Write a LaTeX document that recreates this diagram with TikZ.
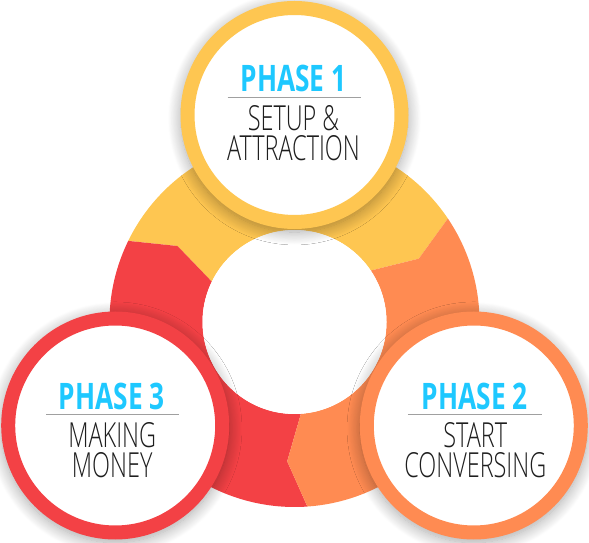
\documentclass[tikz,border=0pt]{standalone}
\usepackage{fontspec}
\setmainfont{Open Sans}
\newfontfamily\phasefont[FakeStretch=0.72]{Open Sans}
\newfontfamily\bodyfont[FakeStretch=0.68]{Open Sans Light}
\usetikzlibrary{positioning, shadows.blur}

\definecolor{phyellow}{RGB}{254,198,81}
\definecolor{phorange}{RGB}{255,139,82}
\definecolor{phred}{RGB}{243,65,69}
\definecolor{phblue}{RGB}{30,200,255}
\definecolor{phtext}{RGB}{30,30,30}
\definecolor{phgray}{RGB}{160,160,160}

\tikzset{
  phase/.style={circle, draw=#1, line width=14pt, fill=white,
    minimum size=214pt, inner sep=0pt,
    blur shadow={shadow xshift=0pt, shadow yshift=-3pt, shadow scale=1.065,
      shadow blur radius=12pt, shadow blur steps=16, shadow opacity=35}},
  heading/.style={anchor=base, text=phblue, inner sep=0pt,
    font=\phasefont\bfseries\fontsize{36.5}{36}\selectfont},
  body/.style={anchor=base, align=center, text=phtext, inner sep=0pt,
    font=\bodyfont\fontsize{34.5}{30.5}\selectfont},
  sepline/.style={draw=phgray, line width=1pt}
}

\begin{document}
\begin{tikzpicture}[x=1pt,y=1pt]
\useasboundingbox (0,0) rectangle (589,543);
\coordinate (c) at (294.5,221);
% ring of three arrows
\begin{scope}[shift={(c)}]
\foreach \s/\col in {34/phyellow, 154/phred, 274/phorange}{
  \pgfmathsetmacro\e{\s+120}
  \fill[\col] (\s:185) arc[start angle=\s, end angle=\e, radius=185]
    -- ({\e-7}:139.5) -- (\e:92)
    arc[start angle=\e, end angle=\s, radius=92]
    -- ({\s-7}:139.5) -- cycle;
}
\end{scope}
\node[circle, fill=white, minimum size=184pt, inner sep=0pt] (hub) at (c) {};

% phases
\node[phase=phyellow] (p1) at (294.5,428) {};
\node[phase=phorange] (p2) at (473.8,117.5) {};
\node[phase=phred] (p3) at (115.2,117.5) {};

\node[heading] (h1) at ([xshift=-1pt,yshift=23pt]p1.center) {PHASE 1};
\draw[sepline] ([xshift=-67pt,yshift=17pt]p1.center) -- ([xshift=66pt,yshift=17pt]p1.center);
\node[body] (t1) at ([xshift=-1pt,yshift=-46pt]p1.center) {SETUP \&\\ATTRACTION};

\node[heading] (h2) at ([xshift=1pt,yshift=15.5pt]p2.center) {PHASE 2};
\draw[sepline] ([xshift=-66pt,yshift=10.5pt]p2.center) -- ([xshift=68pt,yshift=10.5pt]p2.center);
\node[body] (t2) at ([xshift=1.5pt,yshift=-52.5pt]p2.center) {START\\CONVERSING};

\node[heading] (h3) at ([xshift=-3.5pt,yshift=15.5pt]p3.center) {PHASE 3};
\draw[sepline] ([xshift=-69pt,yshift=10.5pt]p3.center) -- ([xshift=64pt,yshift=10.5pt]p3.center);
\node[body] (t3) at ([xshift=-3pt,yshift=-52.5pt]p3.center) {MAKING\\MONEY};
\end{tikzpicture}
\end{document}
